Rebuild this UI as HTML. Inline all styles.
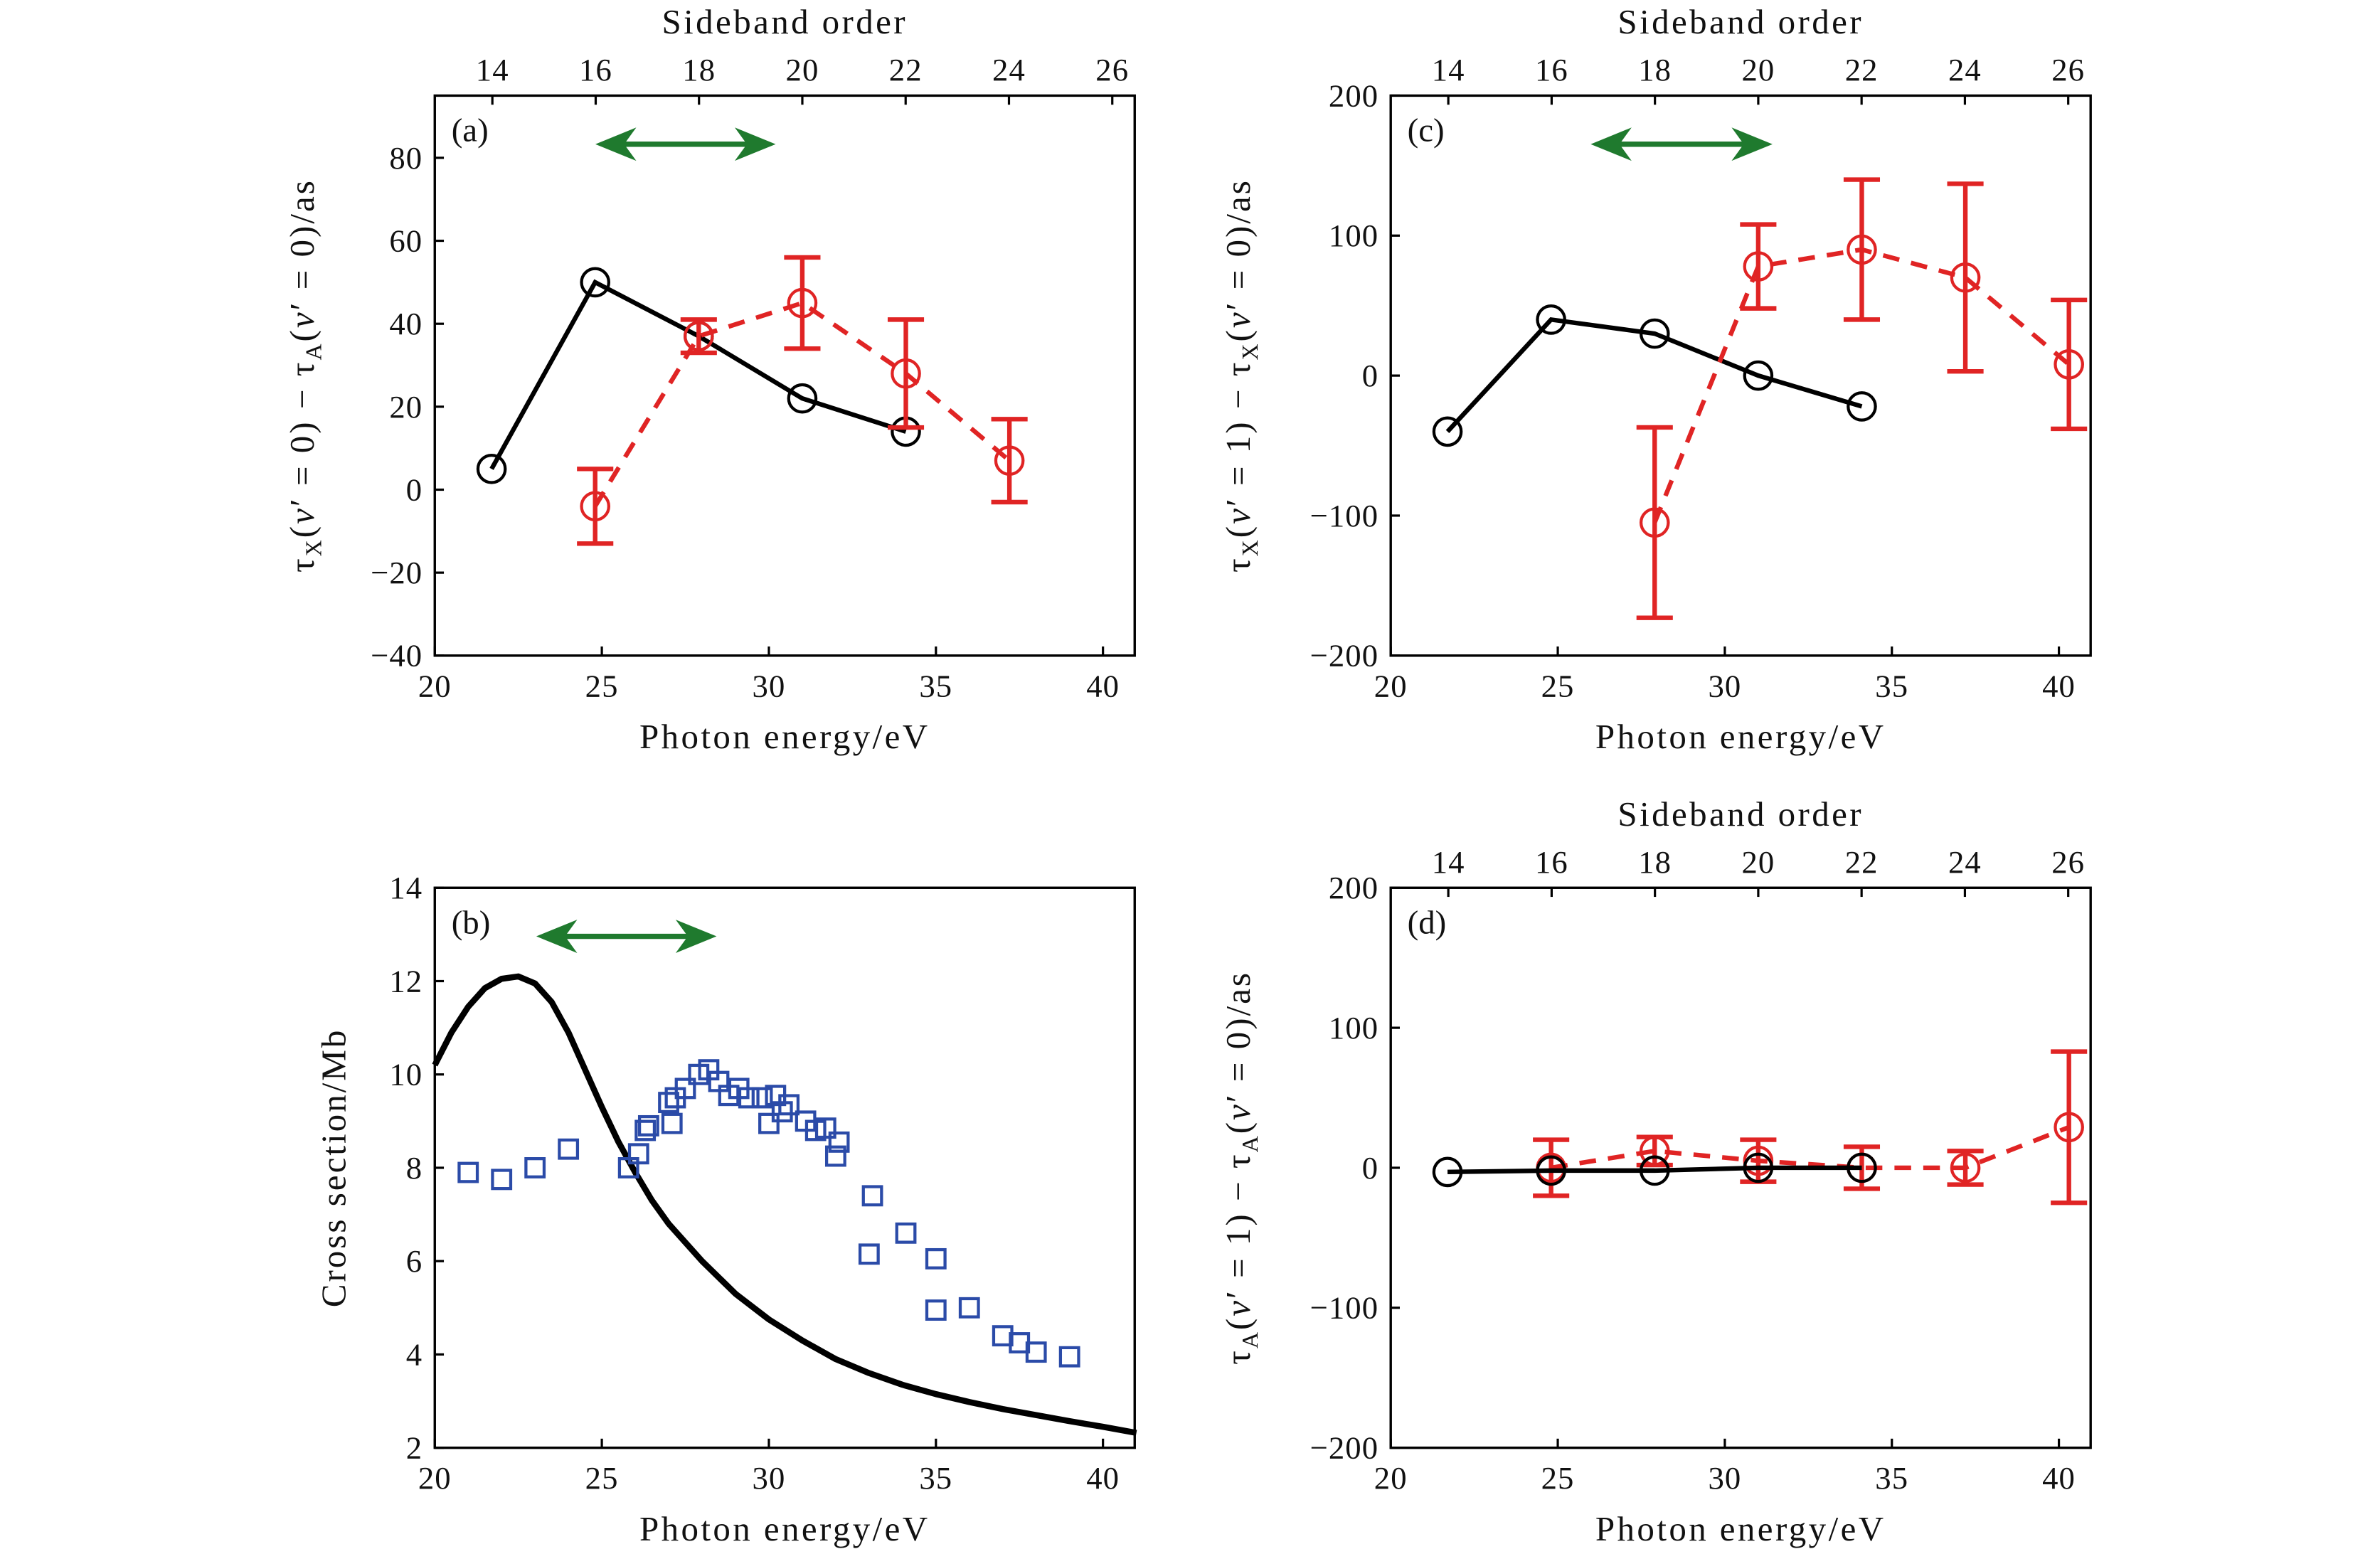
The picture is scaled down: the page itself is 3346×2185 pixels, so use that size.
<!DOCTYPE html>
<html><head><meta charset="utf-8"><style>
html,body{margin:0;padding:0;background:#fff;}
svg{display:block;}
text{font-family:"Liberation Serif",serif;fill:#111;}
</style></head><body>
<svg id="s" width="3346" height="2185" viewBox="0 0 1571 1024" preserveAspectRatio="none" xmlns="http://www.w3.org/2000/svg"></svg>
<script>
const S=document.getElementById('s');let h='';
function P(x0,x1,y0,y1,ymin,ymax){return{X:v=>x0+(v-20)*(x1-x0)/20.95,Y:v=>y1-(v-ymin)*(y1-y0)/(ymax-ymin),x0,x1,y0,y1};}
function frame(p,yt,ylab,labx,top,topY,label){
 h+=`<rect x="${p.x0}" y="${p.y0}" width="${p.x1-p.x0}" height="${p.y1-p.y0}" fill="none" stroke="#000" stroke-width="1.6"/>`;
 for(let v=20;v<=40;v+=5){let x=p.X(v);h+=`<line x1="${x}" y1="${p.y1}" x2="${x}" y2="${p.y1-6}" stroke="#000" stroke-width="1.5"/><text x="${x}" y="${p.y1+27}" font-size="21" letter-spacing="0.5" text-anchor="middle">${v}</text>`;}
 yt.forEach(v=>{let y=p.Y(v);h+=`<line x1="${p.x0}" y1="${y}" x2="${p.x0+6}" y2="${y}" stroke="#000" stroke-width="1.5"/><text x="${p.x0-8}" y="${y+7}" font-size="21" letter-spacing="0.5" text-anchor="end">${v<0?'\u2212'+(-v):v}</text>`;});
 let cx=(p.x0+p.x1)/2;
 h+=`<text x="${cx}" y="${p.y1+61}" font-size="23" text-anchor="middle" letter-spacing="1.6">Photon energy/eV</text>`;
 h+=`<text transform="translate(${labx},${(p.y0+p.y1)/2}) rotate(-90)" font-size="23" letter-spacing="1.4" text-anchor="middle">${ylab}</text>`;
 h+=`<text x="${p.x0+11}" y="${p.y0+30}" font-size="22">${label}</text>`;
 if(top){for(let k=0;k<7;k++){let x=p.x0+38+k*68.2;h+=`<line x1="${x}" y1="${p.y0}" x2="${x}" y2="${p.y0+6}" stroke="#000" stroke-width="1.5"/><text x="${x}" y="${p.y0-10}" font-size="21" letter-spacing="0.5" text-anchor="middle">${14+2*k}</text>`;}
 h+=`<text x="${cx}" y="${p.y0-41}" font-size="23" text-anchor="middle" letter-spacing="1.6">Sideband order</text>`;}
}
function arrow(x1,x2,y){h+=`<line x1="${x1+14}" y1="${y}" x2="${x2-14}" y2="${y}" stroke="#1f7a2e" stroke-width="3.5"/><polygon points="${x1},${y} ${x1+27},${y-11} ${x1+19},${y} ${x1+27},${y+11}" fill="#1f7a2e"/><polygon points="${x2},${y} ${x2-27},${y-11} ${x2-19},${y} ${x2-27},${y+11}" fill="#1f7a2e"/>`;}
function series(p,pts,col,dash,err){
 let d=pts.map((q,i)=>(i?'L':'M')+p.X(q[0])+','+p.Y(q[1])).join(' ');
 h+=`<path d="${d}" fill="none" stroke="${col}" stroke-width="3" ${dash?'stroke-dasharray="11 8"':''}/>`;
 pts.forEach(q=>{let x=p.X(q[0]),y=p.Y(q[1]);
  if(err){let a=p.Y(q[1]+q[2]),b=p.Y(q[1]-q[2]);h+=`<line x1="${x}" y1="${a}" x2="${x}" y2="${b}" stroke="${col}" stroke-width="3"/><line x1="${x-12}" y1="${a}" x2="${x+12}" y2="${a}" stroke="${col}" stroke-width="3"/><line x1="${x-12}" y1="${b}" x2="${x+12}" y2="${b}" stroke="${col}" stroke-width="3"/>`;}
  h+=`<circle cx="${x}" cy="${y}" r="9" fill="none" stroke="${col}" stroke-width="2"/>`;});
}
const RED='#e02424';
let a=P(287,749,63,432,-40,95);
frame(a,[-40,-20,0,20,40,60,80],'τ<tspan font-size="15" dy="5">X</tspan><tspan dy="-5">(</tspan><tspan font-style="italic">v</tspan>′ = 0) − τ<tspan font-size="15" dy="5">A</tspan><tspan dy="-5">(</tspan><tspan font-style="italic">v</tspan>′ = 0)/as',207,true,63,'(a)');
arrow(393,512,95);
series(a,[[21.7,5],[24.8,50],[27.9,37],[31,22],[34.1,14]],'#000',false,false);
series(a,[[24.8,-4,9],[27.9,37,4],[31,45,11],[34.1,28,13],[37.2,7,10]],RED,true,true);
let c=P(918,1380,63,432,-200,200);
frame(c,[-200,-100,0,100,200],'τ<tspan font-size="15" dy="5">X</tspan><tspan dy="-5">(</tspan><tspan font-style="italic">v</tspan>′ = 1) − τ<tspan font-size="15" dy="5">X</tspan><tspan dy="-5">(</tspan><tspan font-style="italic">v</tspan>′ = 0)/as',825,true,63,'(c)');
arrow(1050,1170,95);
series(c,[[21.7,-40],[24.8,40],[27.9,30],[31,0],[34.1,-22]],'#000',false,false);
series(c,[[27.9,-105,68],[31,78,30],[34.1,90,50],[37.2,70,67],[40.3,8,46]],RED,true,true);
let b=P(287,749,585,954,2,14);
frame(b,[2,4,6,8,10,12,14],'Cross section/Mb',228,false,0,'(b)');
arrow(354,473,617);
const cur=[[20,10.2],[20.5,10.9],[21,11.45],[21.5,11.85],[22,12.05],[22.5,12.1],[23,11.95],[23.5,11.55],[24,10.9],[24.5,10.1],[25,9.3],[25.5,8.55],[26,7.9],[26.5,7.3],[27,6.8],[28,6.0],[29,5.3],[30,4.75],[31,4.3],[32,3.9],[33,3.6],[34,3.35],[35,3.15],[36,2.98],[37,2.83],[38,2.7],[39,2.57],[40,2.45],[41,2.32]];
h+=`<path d="${cur.map((q,i)=>(i?'L':'M')+b.X(q[0])+','+b.Y(q[1])).join(' ')}" fill="none" stroke="#000" stroke-width="4" stroke-linejoin="round"/>`;
[[21,7.9],[22,7.75],[23,8],[24,8.4],[25.8,8],[26.1,8.3],[26.3,8.8],[26.4,8.9],[27,9.4],[27.2,9.5],[27.1,8.95],[27.5,9.7],[27.9,10],[28.2,10.1],[28.5,9.85],[28.8,9.55],[29.1,9.7],[29.4,9.5],[29.8,9.5],[30,8.95],[30.2,9.55],[30.4,9.2],[30.6,9.35],[31.1,9.0],[31.4,8.8],[31.7,8.85],[32,8.25],[32.1,8.55],[33,6.15],[33.1,7.4],[34.1,6.6],[35,6.05],[35,4.95],[36,5],[37,4.4],[37.5,4.25],[38,4.05],[39,3.95]].forEach(q=>{h+=`<rect x="${b.X(q[0])-6}" y="${b.Y(q[1])-6}" width="12" height="12" fill="none" stroke="#2b4ba8" stroke-width="2"/>`;});
let d=P(918,1380,585,954,-200,200);
frame(d,[-200,-100,0,100,200],'τ<tspan font-size="15" dy="5">A</tspan><tspan dy="-5">(</tspan><tspan font-style="italic">v</tspan>′ = 1) − τ<tspan font-size="15" dy="5">A</tspan><tspan dy="-5">(</tspan><tspan font-style="italic">v</tspan>′ = 0)/as',825,true,585,'(d)');
series(d,[[24.8,0,20],[27.9,12,10],[31,5,15],[34.1,0,15],[37.2,0,12],[40.3,29,54]],RED,true,true);
series(d,[[21.7,-3],[24.8,-2],[27.9,-2],[31,0],[34.1,0]],'#000',false,false);
S.innerHTML=h;
</script>
</body></html>
